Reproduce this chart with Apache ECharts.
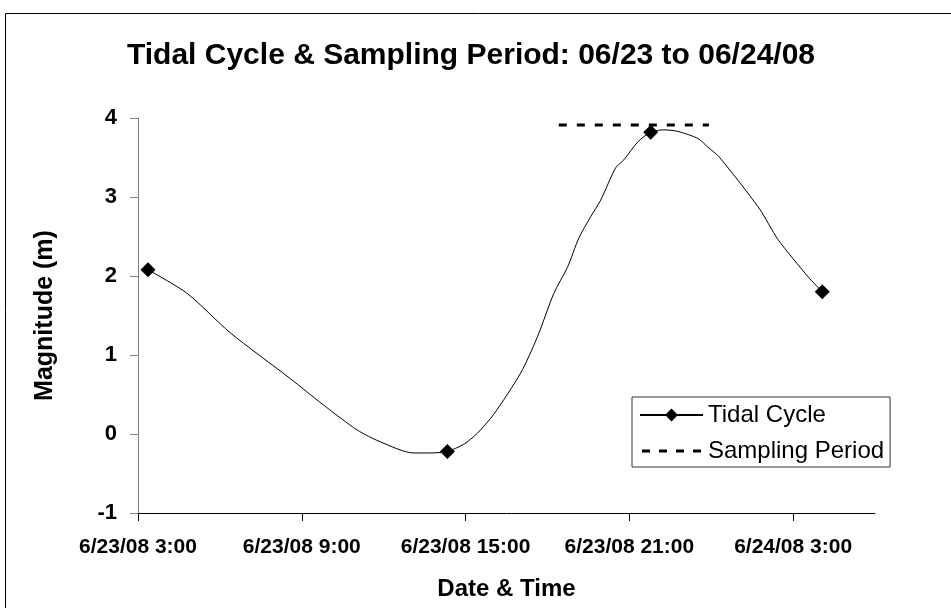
<!DOCTYPE html>
<html>
<head>
<meta charset="utf-8">
<script src="https://cdn.jsdelivr.net/npm/echarts@6/dist/echarts.min.js"></script>
<style>
  html, body { margin: 0; padding: 0; background: #fff; }
  #chart { width: 951px; height: 608px; }
</style>
</head>
<body>
<div id="chart"></div>
<script>
// Tide readings (date + clock time) and magnitude in metres
var tideTimes = ['6/23 03:22','6/23 04:48','6/23 06:23','6/23 08:35','6/23 09:47','6/23 11:02',
  '6/23 11:53','6/23 13:05','6/23 13:43','6/23 14:20','6/23 14:56','6/23 15:26','6/23 16:02',
  '6/23 17:01','6/23 17:38','6/23 18:14','6/23 18:44','6/23 19:09','6/23 19:35','6/23 19:57',
  '6/23 20:30','6/23 20:48','6/23 21:19','6/23 21:47','6/23 22:16','6/23 22:47','6/23 23:31',
  '6/23 23:53','6/24 00:17','6/24 01:45','6/24 02:27','6/24 03:33','6/24 04:04'];
var tideValues = [2.08, 1.78, 1.28, 0.70, 0.37, 0.05, -0.10, -0.24, -0.24, -0.22, -0.13, 0.01, 0.25,
  0.77, 1.23, 1.78, 2.11, 2.48, 2.75, 2.96, 3.37, 3.47, 3.70, 3.82, 3.85, 3.83, 3.74,
  3.63, 3.51, 2.86, 2.46, 1.99, 1.80];
// Readings that are flagged with a marker
var markedTimes = ['6/23 03:22', '6/23 14:20', '6/23 21:47', '6/24 04:04'];

// Sampling window
var samplingTimes = ['6/23 18:25', '6/23 23:55'];
var samplingLevel = [3.91, 3.91];

// Axis ticks (hours after 6/23/08 0:00) and their labels
var tickHours = [3, 9, 15, 21, 27];
var tickLabels = ['6/23/08 3:00', '6/23/08 9:00', '6/23/08 15:00', '6/23/08 21:00', '6/24/08 3:00'];

// "M/D HH:MM" -> hours after 6/23 00:00
function toHours(s) {
  var parts = s.split(' ');
  var day = parseInt(parts[0].split('/')[1], 10);
  var hm = parts[1].split(':');
  return (day - 23) * 24 + parseInt(hm[0], 10) + parseInt(hm[1], 10) / 60;
}

var FONT = '"Liberation Sans", Arial, sans-serif';

var tideData = tideTimes.map(function (t, i) {
  var item = { value: [toHours(t), tideValues[i]] };
  if (markedTimes.indexOf(t) < 0) item.symbol = 'none';
  return item;
});
var samplingData = samplingTimes.map(function (t, i) {
  return [toHours(t), samplingLevel[i]];
});

// legend key for the dashed series: four short bars inside a 63x16 box
var dashedKey = 'path://M0,0M63,16M2,6.5h8v3h-8zM19,6.5h8v3h-8zM36,6.5h8v3h-8zM53,6.5h8v3h-8z';

var chart = echarts.init(document.getElementById('chart'), null, { renderer: 'canvas' });
chart.setOption({
  animation: false,
  backgroundColor: '#fff',
  title: {
    text: 'Tidal Cycle & Sampling Period: 06/23 to 06/24/08',
    left: 466, top: 36, textAlign: 'center',
    textStyle: { fontFamily: FONT, fontSize: 30, fontWeight: 'bold', color: '#000' }
  },
  graphic: [{
    type: 'rect', silent: true,
    shape: { x: 5.5, y: 13.5, width: 1000, height: 700 },
    style: { fill: null, stroke: '#000', lineWidth: 1 }
  }],
  legend: {
    orient: 'vertical', left: 632, top: 397,
    padding: [6, 6, 4, 7],
    itemGap: 12,
    itemWidth: 63, itemHeight: 16,
    borderColor: '#333', borderWidth: 1,
    textStyle: { fontFamily: FONT, fontSize: 24, color: '#000' },
    data: [
      { name: 'Tidal Cycle' },
      { name: 'Sampling Period', icon: dashedKey, itemStyle: { color: '#000' } }
    ]
  },
  grid: { left: 138, right: 76, top: 118, bottom: 95, containLabel: false },
  xAxis: {
    type: 'value', min: 3, max: 30,
    name: 'Date & Time', nameLocation: 'middle', nameGap: 64,
    nameTextStyle: { fontFamily: FONT, fontSize: 24, fontWeight: 'bold', color: '#000' },
    axisLine: { onZero: false, lineStyle: { color: '#000', width: 1 } },
    axisTick: { show: true, length: 8, customValues: tickHours, lineStyle: { color: '#000' } },
    axisLabel: {
      customValues: tickHours, margin: 24,
      fontFamily: FONT, fontSize: 21, fontWeight: 'bold', color: '#000',
      formatter: function (v) { return tickLabels[tickHours.indexOf(v)] || ''; }
    },
    splitLine: { show: false }
  },
  yAxis: {
    type: 'value', min: -1, max: 4, interval: 1,
    name: 'Magnitude (m)', nameLocation: 'middle', nameGap: 80,
    nameTextStyle: { fontFamily: FONT, fontSize: 25, fontWeight: 'bold', color: '#000' },
    axisLine: { show: true, lineStyle: { color: '#808080', width: 1 } },
    axisTick: { show: true, length: 8, lineStyle: { color: '#808080' } },
    axisLabel: { margin: 21, fontFamily: FONT, fontSize: 22, fontWeight: 'bold', color: '#000' },
    splitLine: { show: false }
  },
  series: [{
    name: 'Tidal Cycle',
    type: 'line',
    data: tideData,
    smooth: 0.25,
    symbol: 'diamond', symbolSize: 15,
    showAllSymbol: true,
    itemStyle: { color: '#000' },
    lineStyle: { color: '#000', width: 1 },
    z: 3
  }, {
    name: 'Sampling Period',
    type: 'line',
    data: samplingData,
    symbol: 'none',
    itemStyle: { color: '#000' },
    lineStyle: { color: '#000', width: 3, type: [8, 10] },
    z: 2
  }]
});
</script>
</body>
</html>
